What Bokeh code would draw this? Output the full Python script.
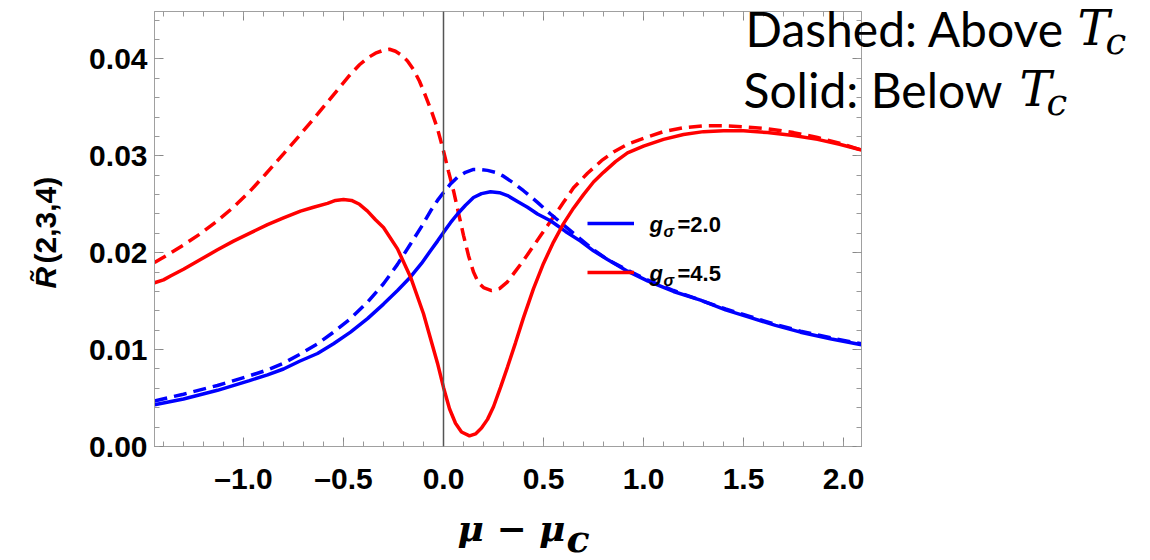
import numpy as np
from bokeh.plotting import figure
from bokeh.models import (Range1d, FixedTicker, LinearAxis, Span, Label, Legend,
                          LegendItem, CustomJSTickFormatter)
from bokeh.core.properties import value
from bokeh.embed import file_html
from bokeh.resources import INLINE

# ---------------- data ----------------
# g_sigma = 4.5, above Tc (dashed red)
red_above_x = [-1.445, -1.37, -1.30, -1.22, -1.13, -1.05, -0.97, -0.89, -0.80, -0.72, -0.63,
               -0.55, -0.47, -0.42, -0.38, -0.34, -0.30, -0.27, -0.24, -0.21, -0.18, -0.15,
               -0.12, -0.09, -0.06, -0.03, 0.0, 0.025, 0.05, 0.075, 0.10, 0.125, 0.15, 0.175,
               0.20, 0.24, 0.28, 0.32, 0.36, 0.40, 0.44, 0.49, 0.54, 0.60, 0.65, 0.72, 0.79,
               0.85, 0.92, 1.0, 1.1, 1.2, 1.3, 1.4, 1.5, 1.62, 1.75, 1.87, 1.98, 2.09]
red_above_y = [0.0190, 0.0199, 0.0208, 0.0219, 0.0233, 0.0247, 0.0263, 0.0281, 0.0302, 0.0321,
               0.0343, 0.0363, 0.0383, 0.0394, 0.0401, 0.0406, 0.0409, 0.0410, 0.0408, 0.0404,
               0.0398, 0.0389, 0.0377, 0.0362, 0.0346, 0.0328, 0.0305, 0.0284, 0.0264, 0.0241,
               0.0218, 0.0197, 0.0180, 0.0169, 0.0164, 0.0161, 0.0163, 0.0170, 0.0181, 0.0192,
               0.0204, 0.0219, 0.0234, 0.0252, 0.0267, 0.0282, 0.0295, 0.0304, 0.0312, 0.0318,
               0.0325, 0.0329, 0.0331, 0.0331, 0.0330, 0.0328, 0.0324, 0.0319, 0.0313, 0.0306]

# g_sigma = 4.5, below Tc (solid red)
red_below_x = [-1.445, -1.40, -1.365, -1.30, -1.215, -1.13, -1.05, -0.96, -0.88, -0.80, -0.715,
               -0.65, -0.58, -0.54, -0.50, -0.46, -0.42, -0.38, -0.34, -0.30, -0.23, -0.165,
               -0.10, -0.03, 0.0, 0.03, 0.06, 0.09, 0.13, 0.16, 0.19, 0.22, 0.25, 0.285, 0.32,
               0.36, 0.40, 0.45, 0.50, 0.55, 0.60, 0.65, 0.70, 0.75, 0.80, 0.86, 0.92, 1.0,
               1.1, 1.2, 1.3, 1.4, 1.5, 1.62, 1.75, 1.87, 1.98, 2.09]
red_below_y = [0.0169, 0.0172, 0.0176, 0.0183, 0.0193, 0.0203, 0.0212, 0.0221, 0.0229, 0.0236,
               0.0243, 0.0247, 0.0251, 0.0254, 0.0255, 0.0254, 0.0250, 0.0243, 0.0234, 0.0226,
               0.0204, 0.0175, 0.0137, 0.0086, 0.0061, 0.0039, 0.0024, 0.0015, 0.0011, 0.0013,
               0.0019, 0.0028, 0.0041, 0.0061, 0.0082, 0.0107, 0.0133, 0.0163, 0.0189, 0.0211,
               0.0230, 0.0246, 0.0260, 0.0273, 0.0283, 0.0294, 0.0303, 0.0310, 0.0317, 0.0322,
               0.0325, 0.0326, 0.0326, 0.0324, 0.0321, 0.0317, 0.0312, 0.0306]

# g_sigma = 2.0, above Tc (dashed blue)
blue_above_x = [-1.445, -1.30, -1.13, -0.97, -0.88, -0.80, -0.72, -0.63, -0.55, -0.465, -0.38,
                -0.30, -0.23, -0.165, -0.11, -0.065, -0.03, 0.0, 0.035, 0.07, 0.11, 0.15, 0.18,
                0.22, 0.26, 0.30, 0.35, 0.40, 0.47, 0.535, 0.61, 0.685, 0.75, 0.82, 0.92, 1.02,
                1.15, 1.285, 1.41, 1.535, 1.66, 1.785, 1.94, 2.09]
blue_above_y = [0.0047, 0.0054, 0.0063, 0.0073, 0.0079, 0.0086, 0.0095, 0.0106, 0.0118, 0.0132,
                0.0149, 0.0168, 0.0188, 0.0209, 0.0227, 0.0243, 0.0254, 0.0262, 0.0271, 0.0278,
                0.0283, 0.0286, 0.0286, 0.0285, 0.0283, 0.0279, 0.0272, 0.0264, 0.0252, 0.0240,
                0.0227, 0.0214, 0.0203, 0.0193, 0.0182, 0.0172, 0.0161, 0.0151, 0.0142, 0.0134,
                0.0126, 0.0119, 0.0112, 0.0106]

# g_sigma = 2.0, below Tc (solid blue)
blue_below_x = [-1.445, -1.30, -1.13, -0.97, -0.88, -0.80, -0.72, -0.63, -0.55, -0.465, -0.38,
                -0.30, -0.23, -0.165, -0.11, -0.065, -0.03, 0.0, 0.035, 0.07, 0.11, 0.15, 0.19,
                0.235, 0.28, 0.32, 0.37, 0.42, 0.47, 0.535, 0.61, 0.685, 0.75, 0.82, 0.92, 1.02,
                1.15, 1.285, 1.41, 1.535, 1.66, 1.785, 1.94, 2.09]
blue_below_y = [0.0043, 0.0049, 0.0058, 0.0068, 0.0074, 0.0080, 0.0088, 0.0096, 0.0106, 0.0118,
                0.0132, 0.0147, 0.0161, 0.0175, 0.0189, 0.0202, 0.0212, 0.0221, 0.0231, 0.0240,
                0.0249, 0.0257, 0.0261, 0.0263, 0.0262, 0.0259, 0.0253, 0.0247, 0.0240, 0.0233,
                0.0222, 0.0212, 0.0202, 0.0193, 0.0181, 0.0171, 0.0160, 0.0151, 0.0141, 0.0133,
                0.0125, 0.0118, 0.0111, 0.0105]

x_tick_values = [-1.0, -0.5, 0.0, 0.5, 1.0, 1.5, 2.0]
x_tick_labels = ["\u20131.0", "\u20130.5", "0.0", "0.5", "1.0", "1.5", "2.0"]
y_tick_values = [0.0, 0.01, 0.02, 0.03, 0.04]
y_tick_labels = ["0.00", "0.01", "0.02", "0.03", "0.04"]
legend_values = ["2.0", "4.5"]
critical_x = 0.0

x_minor = [round(v / 10, 1) for v in range(-14, 21)]
y_minor = [round(v * 0.002, 3) for v in range(0, 23)]

RED = "#ff0000"
BLUE = "#0000ff"
GRAY = "#a0a0a0"

W, H = 1150, 560
FL, FR, FT, FB = 154, 861, 11, 446          # frame edges in canvas pixels
X0, X1, Y0, Y1 = -1.445, 2.09, 0.0, 0.0449
K = 0.42                                     # baseline -> anchor shift (fraction of font size)

p = figure(width=W, height=H, output_backend="svg", toolbar_location=None,
           x_range=Range1d(X0, X1), y_range=Range1d(Y0, Y1),
           min_border_left=FL, min_border_right=W - FR, min_border_top=FT,
           min_border_bottom=H - FB, x_axis_type=None, y_axis_type=None)
p.xgrid.visible = False
p.ygrid.visible = False
p.outline_line_color = GRAY
p.background_fill_color = "white"
p.border_fill_color = "white"


def make_axis(ticks, minor, labels=None, font_size="30px", standoff=7):
    ax = LinearAxis(ticker=FixedTicker(ticks=ticks, minor_ticks=minor))
    ax.axis_line_color = GRAY
    ax.major_tick_line_color = "#888888"
    ax.minor_tick_line_color = "#999999"
    ax.major_tick_in = 9
    ax.major_tick_out = 0
    ax.minor_tick_in = 5
    ax.minor_tick_out = 0
    if labels is None:
        ax.formatter = CustomJSTickFormatter(code="return ''")
        ax.major_label_text_font_size = "0px"
        ax.major_label_standoff = 0
    else:
        ax.major_label_overrides = dict(zip(ticks, labels))
        ax.major_label_text_font = "Liberation Sans"
        ax.major_label_text_font_style = "bold"
        ax.major_label_text_font_size = font_size
        ax.major_label_text_color = "black"
        ax.major_label_standoff = standoff
    return ax


p.add_layout(make_axis(y_tick_values, y_minor, y_tick_labels, "30px", 7), "left")
p.add_layout(make_axis(x_tick_values, x_minor, x_tick_labels, "30px", 15), "below")
p.add_layout(make_axis(y_tick_values, y_minor), "right")
p.add_layout(make_axis(x_tick_values, x_minor), "above")

p.add_layout(Span(location=critical_x, dimension="height", line_color="#555555",
                  line_width=1.5))

DASH = "13 7"
r_red_above = p.line(red_above_x, red_above_y, line_color=RED, line_width=3.5, line_dash=DASH)
r_blue_above = p.line(blue_above_x, blue_above_y, line_color=BLUE, line_width=3.5, line_dash=DASH)
r_blue_below = p.line(blue_below_x, blue_below_y, line_color=BLUE, line_width=3.5)
r_red_below = p.line(red_below_x, red_below_y, line_color=RED, line_width=3.5)

legend = Legend(items=[LegendItem(label=value(" "), renderers=[r_blue_below]),
                       LegendItem(label=value(" "), renderers=[r_red_below])],
                location=(433, 164), padding=0, margin=0, spacing=29,
                glyph_width=47, glyph_height=20, label_height=20, label_width=10,
                label_text_font_size="10px", background_fill_alpha=0,
                border_line_alpha=0)
p.add_layout(legend, "center")


def lab(t, x, y, font, size, style="normal"):
    # text inside the frame: canvas-positioned label; y is the wanted baseline
    p.add_layout(Label(x=x, y=y - K * size, x_units="canvas", y_units="canvas", text=t,
                       text_font=font, text_font_size=f"{size}px", text_font_style=style,
                       text_baseline="alphabetic", text_align="left",
                       text_color="black"))


def cx(px):
    return X0 + (px - FL) * (X1 - X0) / (FR - FL)


def cy(py):
    return Y1 - (py - FT) * (Y1 - Y0) / (FB - FT)


def txt(t, px, py, font, size, style="normal", rotated=False):
    # text that reaches outside the frame: unclipped overlay text; (px, py) on the baseline
    if rotated:
        px = px - K * size
    else:
        py = py - K * size
    p.text(x=[cx(px)], y=[cy(py)], text=[t], text_font=value(font),
           text_font_size=value(f"{size}px"), text_font_style=value(style),
           text_baseline="alphabetic", text_align="left",
           angle=np.pi / 2 if rotated else 0.0,
           text_color="black", level="overlay")


# legend texts g_sigma = value
for i, v in enumerate(legend_values):
    base = 233 + 49 * i
    lab("g", 649, base, "Liberation Sans", 22, "bold italic")
    lab("\u03c3", 663, base + 5, "Liberation Sans", 16, "bold italic")
    lab("=" + v, 677, base, "Liberation Sans", 22, "bold")

# top-right annotation
txt("Dashed: Above", 745, 48, "Lato", 48)
txt("T", 1077, 48, "DejaVu Serif", 48, "italic")
txt("c", 1105, 57, "DejaVu Serif", 37, "italic")
txt("Solid: Below", 743, 109, "Lato", 48)
txt("T", 1019, 109, "DejaVu Serif", 48, "italic")
txt("c", 1046, 118, "DejaVu Serif", 37, "italic")

# x axis label  mu - mu_c
txt("\u03bc \u2212 \u03bc", 457, 543, "DejaVu Serif", 36, "bold italic")
txt("c", 566, 554, "DejaVu Serif", 38, "bold italic")

# y axis label  R~(2,3,4)
txt("R\u0303", 58, 288, "Liberation Sans", 30, "bold italic", rotated=True)
txt("(2,3,4)", 58, 263, "Liberation Sans", 30, "bold", rotated=True)

open("out.html", "w").write(file_html(p, INLINE))
